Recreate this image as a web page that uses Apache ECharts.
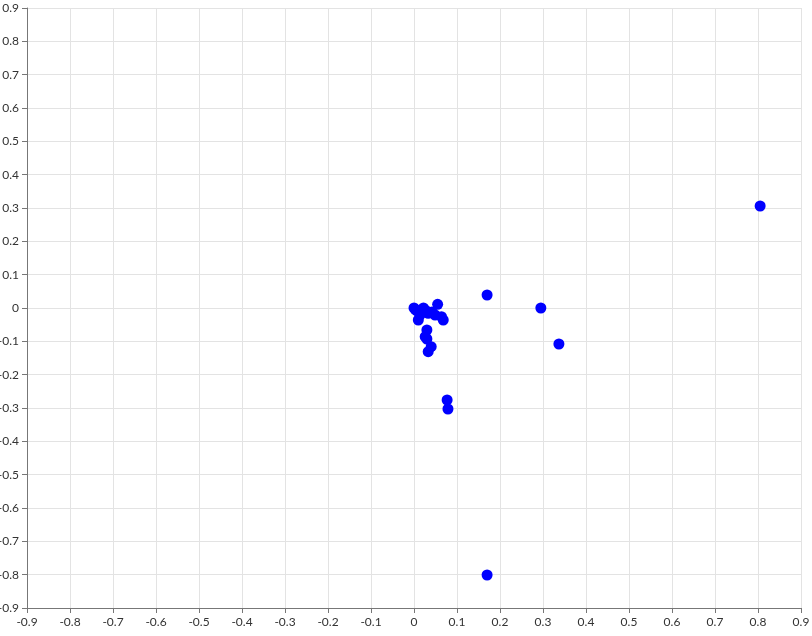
<!DOCTYPE html>
<html><head><meta charset="utf-8">
<script src="https://cdn.jsdelivr.net/npm/echarts@6/dist/echarts.min.js"></script>
<style>html,body{margin:0;padding:0;background:#fff}#c{width:812px;height:636px}</style>
</head><body><div id="c"></div>
<script>
var xValues = [0.000, 0.003, 0.006, 0.014, 0.010, 0.022, 0.018, 0.033, 0.028, 0.055, 0.049, 0.042, 0.064, 0.068, 0.030, 0.026, 0.030, 0.040, 0.033, 0.077, 0.079, 0.170, 0.295, 0.337, 0.805, 0.170];
var yValues = [0.000, -0.004, -0.008, -0.021, -0.036, 0.000, -0.010, -0.016, -0.008, 0.011, -0.021, -0.012, -0.026, -0.036, -0.066, -0.086, -0.093, -0.116, -0.131, -0.276, -0.303, 0.039, 0.000, -0.108, 0.306, -0.801];
var tickValues = [-0.9,-0.8,-0.7,-0.6,-0.5,-0.4,-0.3,-0.2,-0.1,0,0.1,0.2,0.3,0.4,0.5,0.6,0.7,0.8,0.9];

var data = xValues.map(function(x,i){return [x, yValues[i]];});
var chart = echarts.init(document.getElementById('c'));
var axisCommon = {
  type:'value', min:tickValues[0], max:tickValues[tickValues.length-1], interval:0.1,
  axisLine:{show:true, onZero:false, lineStyle:{color:'#777'}},
  axisTick:{show:true, length:5, lineStyle:{color:'#777'}},
  splitLine:{show:true, lineStyle:{color:'#E3E3E3'}},
  axisLabel:{color:'#333', fontSize:12, fontFamily:'Lato', formatter:function(v){return String(Math.round(v*10)/10);}}
};
chart.setOption({
  animation:false,
  grid:{left:27, right:11, top:8, bottom:28, containLabel:false, outerBoundsMode:'none'},
  xAxis: Object.assign({}, axisCommon),
  yAxis: Object.assign({}, axisCommon),
  series:[{type:'scatter', data:data, symbolSize:11, itemStyle:{color:'#0000FF', opacity:1}}]
});
</script></body></html>
